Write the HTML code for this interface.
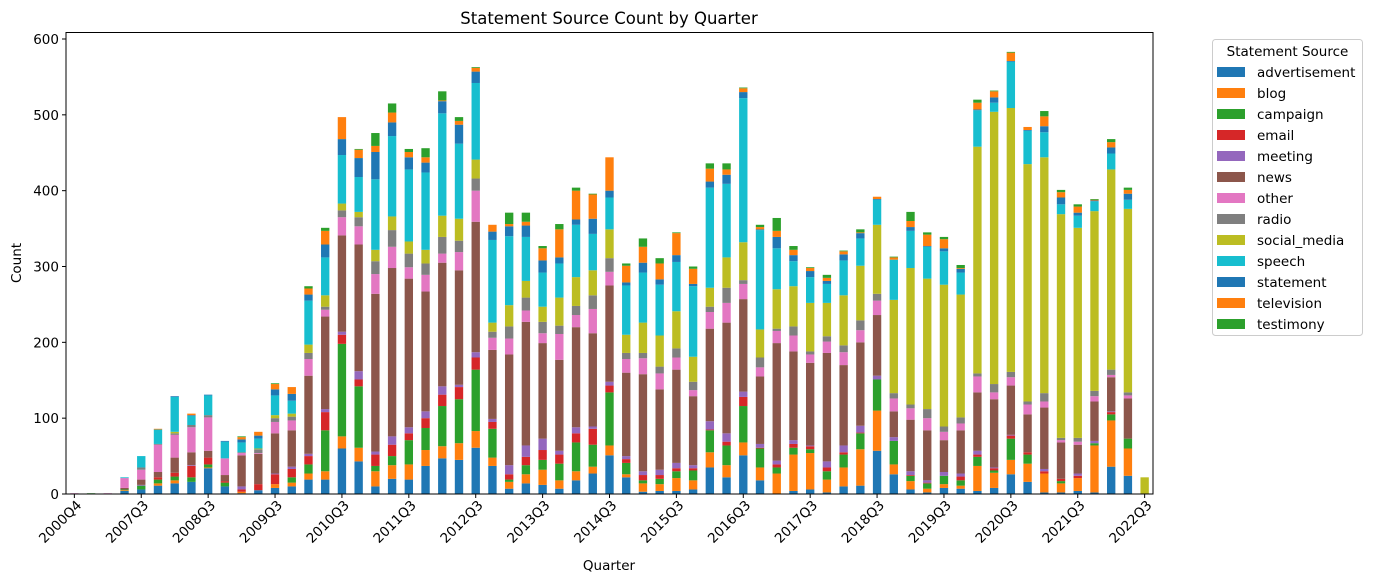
<!DOCTYPE html>
<html><head><meta charset="utf-8">
<style>
html,body{margin:0;padding:0;background:#fff;}
svg{display:block;font-family:"DejaVu Sans","Liberation Sans",sans-serif;}
</style></head>
<body>
<svg id="chart" width="1373" height="582" viewBox="0 0 1373 582" xmlns="http://www.w3.org/2000/svg">
<text x="609" y="24" font-size="16.5" text-anchor="middle">Statement Source Count by Quarter</text>
<text x="609" y="570" font-size="13.5" text-anchor="middle">Quarter</text>
<text x="21" y="263" font-size="13.5" text-anchor="middle" transform="rotate(-90 21 263)">Count</text>
<g id="bars"></g>
<g id="axes"></g>
<g id="legend"></g>
</svg>
<script>
const seriesNames = ["advertisement","blog","campaign","email","meeting","news","other","radio","social_media","speech","statement","television","testimony"];
const colors = ["#1f77b4","#ff7f0e","#2ca02c","#d62728","#9467bd","#8c564b","#e377c2","#7f7f7f","#bcbd22","#17becf","#1f77b4","#ff7f0e","#2ca02c"];
const quarters = ["2000Q4","2002Q1","2005Q2","2007Q1"];
for (let y = 2007, q = 3; quarters.length < 65; ) { quarters.push(y + "Q" + q); q++; if (q > 4) { q = 1; y++; } }
const advertisement = [0,0,0,4,6,11,14,16,34,10, 1,5,8,10,19,19,60,43,10,20, 19,37,47,45,61,37,7,14,12,7, 18,27,51,22,3,4,4,6,35,22, 51,18,0,4,6,2,10,11,57,26, 6,2,8,7,4,8,26,16,2,2, 4,2,36,24,0];
const blog = [0,0,0,1,0,3,4,0,1,0, 2,0,5,5,8,11,16,18,20,18, 20,21,16,22,22,11,9,12,20,11, 12,9,13,4,11,9,17,12,20,16, 17,17,27,48,48,17,25,48,53,13, 11,5,5,4,33,20,19,24,25,12, 17,62,61,36,0];
const campaign = [0,1,0,1,5,5,5,6,4,5, 0,0,0,7,12,54,122,81,7,12, 32,29,53,58,81,38,3,12,13,22, 38,29,70,15,4,7,9,13,29,26, 48,25,8,9,5,11,17,21,41,31, 7,7,11,7,12,3,28,12,0,3, 0,3,8,13,0];
const email = [0,0,0,0,0,3,5,15,9,2, 3,8,13,11,11,24,12,9,15,15, 9,13,15,16,16,9,7,11,13,12, 12,21,9,5,7,5,4,3,1,5, 12,1,4,5,4,5,3,1,0,0, 1,1,0,5,3,3,4,3,3,3, 3,0,3,0,0];
const meeting = [0,0,0,0,1,0,0,1,0,0, 4,0,1,3,3,4,4,11,4,11, 8,9,11,3,7,4,12,15,15,5, 8,3,5,4,5,7,7,4,11,11, 7,5,5,5,1,8,9,9,5,5, 5,3,5,4,5,1,1,0,3,0, 3,3,1,0,0];
const news = [0,0,0,2,7,7,20,17,9,8, 41,40,53,48,103,122,127,167,208,222, 196,158,163,151,172,91,146,163,126,120, 132,123,127,110,128,106,123,91,122,146, 122,89,155,117,109,143,106,110,80,34, 68,66,42,57,77,90,65,50,81,48, 38,52,45,53,0];
const other = [1,0,1,13,13,36,30,33,44,22, 3,1,15,13,22,9,24,24,26,28, 15,22,12,24,41,16,21,15,13,34, 16,32,18,18,21,21,16,8,22,26, 20,12,16,21,11,15,17,16,19,17, 15,16,11,9,21,9,11,13,8,3, 4,7,3,4,0];
const radio = [0,0,0,0,3,1,2,3,3,0, 1,5,5,5,8,4,9,12,17,22, 18,15,22,15,16,8,16,17,15,11, 12,18,18,8,7,9,12,11,7,20, 5,13,3,12,4,7,9,13,9,7, 5,12,7,8,4,11,7,4,11,3, 5,7,7,4,0];
const social_media = [0,0,0,0,0,0,2,0,0,0, 0,1,4,4,11,15,9,7,15,18, 16,18,28,29,25,12,28,22,20,37, 38,33,38,24,40,41,49,33,25,40, 50,37,52,53,64,44,66,72,91,123, 180,172,187,162,299,359,348,313,311,295, 277,237,264,242,22];
const speech = [0,0,0,1,15,19,46,12,26,22, 13,13,26,17,58,50,64,46,93,106, 95,102,135,99,101,109,91,58,45,45, 69,48,42,65,66,67,65,93,132,97, 190,131,54,33,34,25,46,36,33,53, 49,42,44,29,48,12,61,44,33,13, 16,13,21,12,0];
const statement = [0,0,0,0,0,0,1,1,1,1, 4,4,8,9,8,17,21,25,36,18, 16,13,16,25,15,11,13,15,16,8, 7,20,9,4,13,7,9,3,8,12, 8,1,15,8,8,4,8,7,1,0, 5,1,4,5,1,7,1,1,8,9, 4,1,8,8,0];
const television = [0,0,0,0,0,1,0,2,0,0, 3,5,7,9,8,18,29,11,8,13, 7,7,1,5,5,9,3,5,16,37, 38,32,44,22,21,21,29,20,17,7, 5,3,8,7,4,4,4,1,3,3, 8,15,12,1,9,8,11,4,13,7, 8,1,7,5,0];
const testimony = [0,0,0,0,0,0,0,0,0,0, 1,0,1,0,3,4,0,1,17,12, 4,12,12,5,1,0,15,12,3,7, 4,1,0,3,11,7,1,3,7,8, 1,3,17,5,1,4,1,4,0,1, 12,3,3,4,4,1,1,0,7,3, 3,1,4,3,0];
const yTicks = [0,100,200,300,400,500,600];

const series = [advertisement,blog,campaign,email,meeting,news,other,radio,social_media,speech,statement,television,testimony];
const NS = "http://www.w3.org/2000/svg";
const X0 = 66, X1 = 1153, Y0 = 494, YTOP = 32.5;
const n = quarters.length;
const step = (X1 - X0) / n;
const xScale = i => X0 + step * (i + 0.5);
const yScale = v => Y0 - v * (Y0 - 39) / 600;
function mk(tag, attrs, parent) { const e = document.createElementNS(NS, tag); for (const k in attrs) e.setAttribute(k, attrs[k]); parent.appendChild(e); return e; }

const barsG = document.getElementById('bars');
for (let i = 0; i < n; i++) {
  let cum = 0;
  for (let s = 0; s < series.length; s++) {
    const v = series[s][i];
    if (!v) continue;
    const r = mk('rect', {x: xScale(i) - step * 0.25, y: yScale(cum + v), width: step * 0.5, height: yScale(cum) - yScale(cum + v), fill: colors[s]}, barsG);
    
    
    cum += v;
  }
}

const axesG = document.getElementById('axes');
const frame = mk('rect', {x: X0, y: YTOP, width: X1 - X0, height: Y0 - YTOP, fill: 'none', stroke: '#000', 'stroke-width': 1}, axesG);


yTicks.forEach(t => {
  const y = yScale(t);
  mk('line', {x1: X0 - 4, x2: X0, y1: y, y2: y, stroke: '#000'}, axesG);
  const tx = mk('text', {x: X0 - 7, y: y + 5, 'font-size': 13.5, 'text-anchor': 'end'}, axesG);
  tx.textContent = t;
  
  
});
for (let i = 0; i < n; i += 4) {
  const x = xScale(i);
  mk('line', {x1: x, x2: x, y1: Y0, y2: Y0 + 4, stroke: '#000'}, axesG);
  const tx = mk('text', {x: x + 8, y: Y0 + 12, 'font-size': 13.5, 'text-anchor': 'end', transform: 'rotate(-45 ' + (x + 8) + ' ' + (Y0 + 12) + ')'}, axesG);
  tx.textContent = quarters[i];
  
  
}

const legG = document.getElementById('legend');
const box = mk('rect', {x: 1212.5, y: 39.5, width: 150, height: 296, rx: 3, fill: '#fff', stroke: '#ccc'}, legG);


const lt = mk('text', {x: 1287.5, y: 56, 'font-size': 13.5, 'text-anchor': 'middle'}, legG);
lt.textContent = 'Statement Source';


seriesNames.forEach((nm, s) => {
  const y = 72 + s * 21;
  const g = mk('g', {}, legG);
  
  
  mk('rect', {x: 1217, y: y - 5, width: 28, height: 10, fill: colors[s]}, g);
  const t = mk('text', {x: 1257, y: y + 5, 'font-size': 13.5}, g);
  t.textContent = nm;
});
</script>
</body></html>
